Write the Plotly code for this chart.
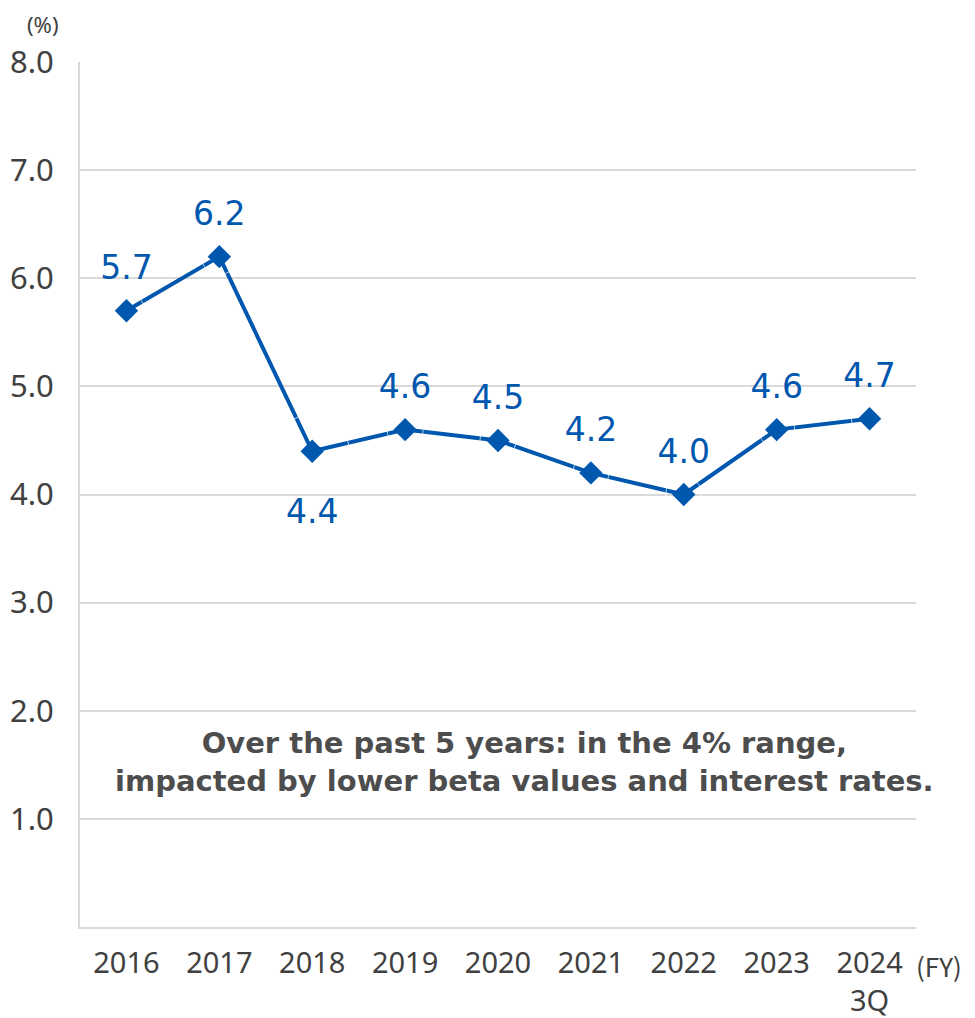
import plotly.graph_objects as go

years = ["2016", "2017", "2018", "2019", "2020", "2021", "2022", "2023", "2024<br>3Q"]
values = [5.7, 6.2, 4.4, 4.6, 4.5, 4.2, 4.0, 4.6, 4.7]
label_pos = ["top center", "top center", "bottom center", "top center", "top center",
             "top center", "top center", "top center", "top center"]
y_ticks = [1, 2, 3, 4, 5, 6, 7, 8]
y_tick_text = ["1.0", "2.0", "3.0", "4.0", "5.0", "6.0", "7.0", "8.0"]

blue = "#0057AE"
grid = "#d9d9d9"
txt = "#404040"
font = "Noto Sans CJK JP, Noto Sans, sans-serif"
tick_font = "Noto Sans, sans-serif"
label_font = "DejaVu Sans, sans-serif"

xs = list(range(len(years)))
fig = go.Figure()
fig.add_trace(go.Scatter(
    x=xs, y=values,
    mode="lines+markers",
    line=dict(color=blue, width=4),
    marker=dict(symbol="diamond", size=18, color=blue),
    showlegend=False, hoverinfo="skip",
))
# invisible carrier markers to push the value labels away from the points
fig.add_trace(go.Scatter(
    x=xs, y=values,
    mode="markers+text",
    marker=dict(size=[36 if p.startswith("top") else 74 for p in label_pos],
                color="rgba(0,0,0,0)"),
    text=[f"{v:.1f}" for v in values],
    textposition=label_pos,
    textfont=dict(color=blue, size=33, family=label_font),
    cliponaxis=False,
    showlegend=False,
))

fig.update_layout(
    width=967, height=1010,
    margin=dict(l=72, r=59, t=54, b=91),
    paper_bgcolor="white", plot_bgcolor="white",
    font=dict(family=font, color=txt),
    xaxis=dict(
        tickmode="array", tickvals=xs, ticktext=years,
        range=[-0.5, 8.5], showgrid=False, zeroline=False,
        showline=True, linecolor=grid, linewidth=2, automargin=False,
        tickfont=dict(size=29, color=txt, family=tick_font), ticks="",
        ticklabelstandoff=9,
    ),
    yaxis=dict(
        range=[0, 8], tickmode="array", tickvals=y_ticks, ticktext=y_tick_text,
        showgrid=True, gridcolor=grid, gridwidth=1.5, zeroline=False,
        showline=True, linecolor=grid, linewidth=2, automargin=False,
        tickfont=dict(size=31, color=txt, family=tick_font), ticks="",
        ticklabelstandoff=18,
    ),
    annotations=[
        dict(text="(%)", x=0, y=1, xref="paper", yref="paper", xshift=-38, yshift=38,
             xanchor="center", yanchor="middle",
             showarrow=False, font=dict(size=22, color=txt, family=tick_font)),
        dict(text="<b>Over the past 5 years: in the 4% range,<br>impacted by lower beta values and interest rates.</b>",
             xref="x", yref="y", x=4.29, y=1.53, showarrow=False,
             xanchor="center", yanchor="middle",
             font=dict(size=29, color="#4d4d4d", family=label_font), align="center"),
        dict(text="(FY)", xref="paper", yref="paper", x=1.0, y=0, xshift=-2, yshift=-38,
             xanchor="left", yanchor="middle",
             showarrow=False, font=dict(size=26, color=txt, family=font)),
    ],
)

fig.write_html("out.html")
